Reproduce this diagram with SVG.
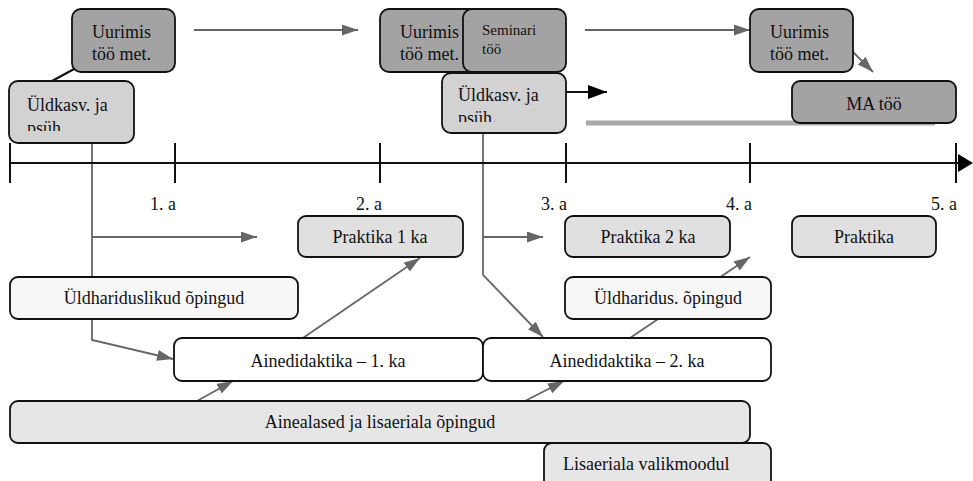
<svg xmlns="http://www.w3.org/2000/svg" width="973" height="481" viewBox="0 0 973 481">
<style>
text{font-family:"Liberation Serif","Times New Roman",serif;font-size:18px;fill:#111}
.c{text-anchor:middle}
.box{stroke:#111;stroke-width:1.8}
.dark{fill:#a3a3a3}
.mid{fill:#d2d2d2}
.lt{fill:#e0e0e0}
.lt2{fill:#e6e6e6}
.pale{fill:#f7f7f7}
.wh{fill:#ffffff}
.g{stroke:#666;stroke-width:1.8;fill:none}
.k{stroke:#111;stroke-width:2;fill:none}
</style>
<defs>
<marker id="ag" markerUnits="userSpaceOnUse" markerWidth="18" markerHeight="12" refX="16" refY="5.5" orient="auto"><path d="M0,0 L16,5.5 L0,11 z" fill="#666"/></marker>
<marker id="ak" markerUnits="userSpaceOnUse" markerWidth="20" markerHeight="16" refX="19" refY="7" orient="auto"><path d="M0,0 L19,7 L0,14 z" fill="#000"/></marker>
<clipPath id="cl1"><rect x="9" y="81" width="125" height="50"/></clipPath>
<clipPath id="cl2"><rect x="442" y="73" width="124" height="49"/></clipPath>
</defs>
<g id="connectors">
<line class="g" x1="194" y1="30" x2="358" y2="30" marker-end="url(#ag)"/>
<line class="g" x1="585" y1="30" x2="750" y2="30" marker-end="url(#ag)"/>
<line class="g" x1="853" y1="52" x2="873" y2="72" marker-end="url(#ag)"/>
<line class="k" x1="76" y1="68" x2="52" y2="81"/>
<line class="k" x1="566" y1="92" x2="607" y2="92" marker-end="url(#ak)"/>
<line x1="586" y1="123" x2="935" y2="123" stroke="#aaa" stroke-width="5"/>
<polyline class="g" points="92,143 92,340 173,359" marker-end="url(#ag)"/>
<line class="g" x1="92" y1="237" x2="257" y2="237" marker-end="url(#ag)"/>
<polyline class="g" points="483,133 483,275 543,337" marker-end="url(#ag)"/>
<line class="g" x1="483" y1="237" x2="543" y2="237" marker-end="url(#ag)"/>
<line class="g" x1="300" y1="340" x2="420" y2="258" marker-end="url(#ag)"/>
<line class="g" x1="627" y1="340" x2="750" y2="257" marker-end="url(#ag)"/>
<line class="g" x1="197" y1="401" x2="233" y2="381" marker-end="url(#ag)"/>
<line class="g" x1="525" y1="401" x2="564" y2="381" marker-end="url(#ag)"/>
</g>
<g id="timeline">
<line x1="9" y1="163" x2="962" y2="163" stroke="#111" stroke-width="2"/>
<path d="M958,154 L973,163 L958,172 z" fill="#000"/>
<g stroke="#111" stroke-width="2">
<line x1="10" y1="143" x2="10" y2="183"/>
<line x1="175" y1="143" x2="175" y2="183"/>
<line x1="380" y1="143" x2="380" y2="183"/>
<line x1="566" y1="143" x2="566" y2="183"/>
<line x1="750" y1="143" x2="750" y2="183"/>
<line x1="956" y1="143" x2="956" y2="183"/>
</g>
<g style="text-anchor:end;font-size:17px">
<text x="176" y="210">1. a</text>
<text x="382" y="210">2. a</text>
<text x="567" y="210">3. a</text>
<text x="752" y="210">4. a</text>
<text x="957" y="210">5. a</text>
</g>
</g>
<g id="uurimis1"><rect class="box dark" x="72" y="9" width="103" height="63" rx="9"/><text x="92" y="38">Uurimis</text><text x="92" y="60">töö met.</text></g>
<g id="uldkasv1"><rect class="box mid" x="9" y="81" width="125" height="62" rx="9"/><g clip-path="url(#cl1)"><text x="27" y="111">Üldkasv. ja</text><text x="27" y="134">psüh.</text></g></g>
<g id="uurimis2"><rect class="box dark" x="380" y="9" width="110" height="63" rx="9"/><text x="400" y="38">Uurimis</text><text x="400" y="60">töö met.</text></g>
<g id="seminari"><rect class="box dark" x="463" y="9" width="103" height="63" rx="9"/><text x="482" y="35" style="font-size:15px">Seminari</text><text x="482" y="54" style="font-size:15px">töö</text></g>
<g id="uldkasv2"><rect class="box mid" x="442" y="73" width="124" height="60" rx="9"/><g clip-path="url(#cl2)"><text x="458" y="101">Üldkasv. ja</text><text x="458" y="124">psüh.</text></g></g>
<g id="uurimis3"><rect class="box dark" x="750" y="9" width="103" height="63" rx="9"/><text x="770" y="38">Uurimis</text><text x="770" y="60">töö met.</text></g>
<g id="matoo"><rect class="box dark" x="792" y="81" width="164" height="42" rx="8"/><text class="c" x="874" y="110">MA töö</text></g>
<g id="praktika1"><rect class="box lt" x="298" y="216" width="165" height="41" rx="8"/><text class="c" x="380" y="243">Praktika 1 ka</text></g>
<g id="praktika2"><rect class="box lt" x="565" y="216" width="165" height="41" rx="8"/><text class="c" x="648" y="243">Praktika 2 ka</text></g>
<g id="praktika"><rect class="box lt" x="792" y="216" width="144" height="41" rx="8"/><text class="c" x="864" y="243">Praktika</text></g>
<g id="uldharid1"><rect class="box pale" x="10" y="277" width="288" height="42" rx="8"/><text class="c" x="154" y="304">Üldhariduslikud õpingud</text></g>
<g id="uldharid2"><rect class="box pale" x="565" y="277" width="206" height="42" rx="8"/><text class="c" x="668" y="304">Üldharidus. õpingud</text></g>
<g id="ainedid1"><rect class="box wh" x="174" y="338" width="309" height="43" rx="8"/><text class="c" x="328" y="367">Ainedidaktika – 1. ka</text></g>
<g id="ainedid2"><rect class="box wh" x="483" y="338" width="288" height="43" rx="8"/><text class="c" x="627" y="367">Ainedidaktika – 2. ka</text></g>
<g id="ainealased"><rect class="box lt2" x="10" y="401" width="740" height="42" rx="8"/><text class="c" x="380" y="428">Ainealased ja lisaeriala õpingud</text></g>
<g id="lisaeriala"><rect class="box lt2" x="544" y="443" width="227" height="46" rx="8"/><text x="563" y="470">Lisaeriala valikmoodul</text></g>
</svg>
